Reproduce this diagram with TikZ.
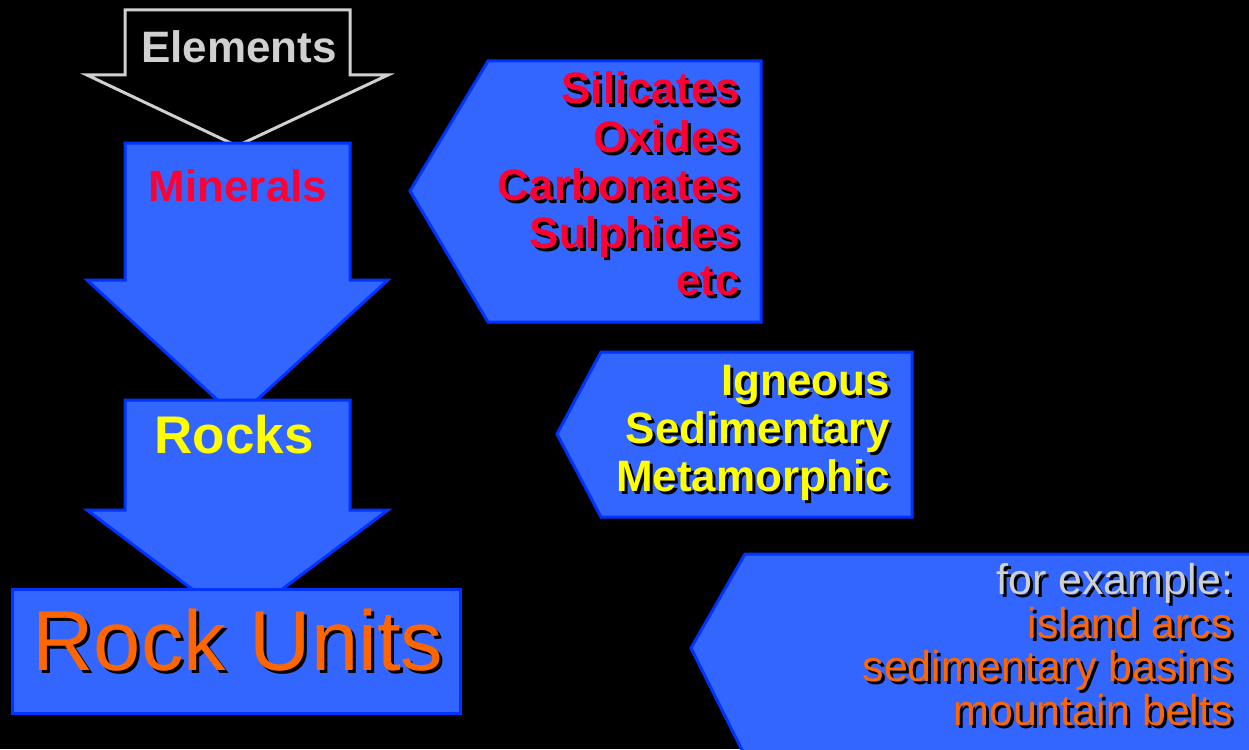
\documentclass[tikz,border=0pt]{standalone}
\usepackage{fontspec}
\setmainfont{Liberation Sans}
\definecolor{boxblue}{HTML}{3366FF}
\definecolor{edgeblue}{HTML}{0033FF}
\definecolor{lightgray}{HTML}{D0D0D0}
\definecolor{minred}{HTML}{FF0033}
\definecolor{rockyellow}{HTML}{FFFF00}
\definecolor{unitorange}{HTML}{FF6600}
% text with a black drop shadow, set as one node
\newcommand\shadowtext[6]{%
  \node[txt, anchor=#1] (#3) at (#2)
    {#5\makebox[0pt][l]{\hspace*{3pt}\raisebox{-3pt}{\color{black}#6}}{\color{#4}#6}};
}
\begin{document}
\begin{tikzpicture}[x=1pt,y=-1pt,
  blockshape/.style={fill=boxblue, draw=edgeblue, line width=3pt, line join=miter},
  outlineshape/.style={fill=black, draw=lightgray, line width=3pt, line join=miter},
  txt/.style={inner sep=0pt, outer sep=0pt}]
\useasboundingbox (0,0) rectangle (1249,749);
\fill[black] (0,0) rectangle (1249,749);

% Elements arrow (outline)
\draw[outlineshape] (125,10) -- (350,10) -- (350,75) -- (388,75) -- (237,146) -- (87,75) -- (125,75) -- cycle;
\node[txt, anchor=base, text=lightgray] (elements) at (239,63) {\fontsize{44}{48}\bfseries Elements};

% Minerals arrow
\draw[blockshape] (125,143) -- (350,143) -- (350,280) -- (388,280) -- (237,418) -- (87,280) -- (125,280) -- cycle;
\node[txt, anchor=base, text=minred] (minerals) at (238,201) {\fontsize{44}{48}\bfseries Minerals};

% Rocks arrow
\draw[blockshape] (125,400) -- (350,400) -- (350,510) -- (388,510) -- (237,623) -- (87,510) -- (125,510) -- cycle;
\node[txt, anchor=base, text=rockyellow] (rocks) at (234,453) {\fontsize{53}{56}\bfseries Rocks};

% Rock Units box
\draw[blockshape] (12,589) rectangle (460,713);
\shadowtext{base}{238,670}{rockunits}{unitorange}{\fontsize{85}{90}\selectfont}{Rock Units}

% Mineral types callout
\draw[blockshape] (410,191) -- (488,61) -- (761,61) -- (761,322) -- (488,322) -- cycle;
\shadowtext{base east}{740,104}{silicates}{minred}{\fontsize{44}{48}\bfseries}{Silicates}
\shadowtext{base east}{740,152}{oxides}{minred}{\fontsize{44}{48}\bfseries}{Oxides}
\shadowtext{base east}{740,200}{carbonates}{minred}{\fontsize{44}{48}\bfseries}{Carbonates}
\shadowtext{base east}{740,248}{sulphides}{minred}{\fontsize{44}{48}\bfseries}{Sulphides}
\shadowtext{base east}{740,295}{etc}{minred}{\fontsize{44}{48}\bfseries}{etc}

% Rock types callout
\draw[blockshape] (557,434) -- (601,352) -- (912,352) -- (912,517) -- (601,517) -- cycle;
\shadowtext{base east}{890,395}{igneous}{rockyellow}{\fontsize{44}{48}\bfseries}{Igneous}
\shadowtext{base east}{890,443}{sedimentary}{rockyellow}{\fontsize{44}{48}\bfseries}{Sedimentary}
\shadowtext{base east}{890,491}{metamorphic}{rockyellow}{\fontsize{44}{48}\bfseries}{Metamorphic}

% Rock units callout
\draw[blockshape] (691,648) -- (745,554) -- (1262,554) -- (1262,756) -- (745,756) -- cycle;
\shadowtext{base east}{1233,594}{forexample}{lightgray}{\fontsize{43}{44}\selectfont}{for example:}
\shadowtext{base east}{1233,638}{islandarcs}{unitorange}{\fontsize{43}{44}\selectfont}{island arcs}
\shadowtext{base east}{1233,681}{sedbasins}{unitorange}{\fontsize{43}{44}\selectfont}{sedimentary basins}
\shadowtext{base east}{1233,725}{mountainbelts}{unitorange}{\fontsize{43}{44}\selectfont}{mountain belts}
\end{tikzpicture}
\end{document}
